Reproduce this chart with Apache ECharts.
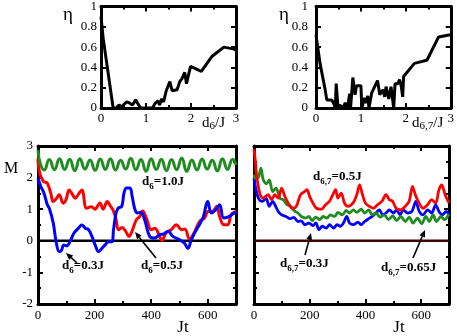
<!DOCTYPE html>
<html>
<head>
<meta charset="utf-8">
<script src="https://cdn.jsdelivr.net/npm/echarts@6/dist/echarts.min.js"></script>
<style>
  html, body { margin: 0; padding: 0; background: #fff; }
  #chart { width: 457px; height: 336px; }
</style>
</head>
<body>
<div id="chart"></div>
<script>
// ---- data ----
// top left: eta vs d6/J
var d6 = [0, 0.05, 0.27, 0.33, 0.4, 0.45, 0.57, 0.63, 0.7, 0.77, 0.81, 0.88, 0.96, 1.14, 1.21, 1.27, 1.3, 1.35, 1.39, 1.45, 1.53, 1.58, 1.69, 1.75, 1.8, 1.86, 1.9, 1.99, 2.23, 2.47, 2.73, 2.96, 3.0];
var eta6 = [0.9, 0.68, 0, 0, 0.03, 0.01, 0.06, 0.05, 0.03, 0.08, 0.05, 0, 0, 0, 0.05, 0.07, 0.03, 0.09, 0.06, 0.17, 0.26, 0.17, 0.18, 0.26, 0.29, 0.35, 0.24, 0.41, 0.36, 0.51, 0.6, 0.58, 0.57];
// top right: eta vs d67/J
var d67 = [0, 0.09, 0.2, 0.24, 0.35, 0.4, 0.43, 0.45, 0.49, 0.53, 0.6, 0.65, 0.7, 0.75, 0.77, 0.82, 0.87, 0.9, 1.0, 1.02, 1.08, 1.12, 1.15, 1.18, 1.24, 1.27, 1.37, 1.42, 1.49, 1.53, 1.56, 1.62, 1.67, 1.73, 1.76, 1.82, 1.86, 1.9, 1.93, 1.95, 2.19, 2.47, 2.73, 2.96, 3.0];
var eta67 = [0.72, 0.44, 0.19, 0.08, 0.08, 0.04, 0, 0.24, 0, 0.03, 0, 0.05, 0, 0.14, 0, 0.3, 0.13, 0.22, 0.22, 0, 0.1, 0.05, 0.12, 0, 0.15, 0.14, 0.27, 0.13, 0.18, 0.11, 0.21, 0.09, 0.21, 0, 0.24, 0.24, 0.28, 0.21, 0.11, 0.31, 0.44, 0.47, 0.7, 0.72, 0.72];

// bottom left: M vs Jt
var tGreenL = [0, 8, 22, 40, 58, 76, 94, 112, 130, 148, 166, 184, 202, 220, 238, 256, 274, 292, 310, 328, 346, 364, 382, 400, 418, 436, 454, 472, 490, 508, 526, 544, 562, 580, 598, 616, 634, 652, 670, 688, 700];
var mGreenL = [2.88, 2.45, 2.24, 2.57, 2.25, 2.6, 2.26, 2.58, 2.22, 2.6, 2.27, 2.56, 2.23, 2.59, 2.26, 2.6, 2.24, 2.55, 2.27, 2.61, 2.25, 2.57, 2.2, 2.6, 2.26, 2.58, 2.22, 2.57, 2.25, 2.62, 2.2, 2.56, 2.24, 2.59, 2.27, 2.55, 2.21, 2.6, 2.26, 2.58, 2.4];
var tRedL = [0, 6, 19, 33, 45, 54, 66, 75, 89, 99, 110, 122, 132, 145, 155, 172, 189, 201, 219, 230, 245, 256, 265, 275, 285, 297, 308, 322, 332, 348, 360, 370, 383, 401, 413, 430, 438, 453, 471, 489, 507, 519, 536, 554, 571, 589, 601, 616, 632, 642, 657, 671, 683, 700];
var mRedL = [2.6, 2.14, 1.88, 1.82, 1.51, 1.24, 1.35, 1.46, 1.19, 1.3, 1.61, 1.46, 1.35, 1.5, 1.61, 1.03, 1.08, 1.0, 1.2, 1.0, 1.24, 1.1, 0.98, 0.72, 0.35, 0.42, 0.33, 0.14, 0.3, 0.67, 0.77, 0.94, 0.72, 0.35, 0.4, 0.14, 0.0, 0.25, 0.35, 0.51, 0.35, 0.37, 0.05, 0.29, 0.61, 0.72, 0.93, 0.93, 1.09, 0.77, 0.51, 0.51, 0.83, 0.93];
var tBlueL = [0, 10, 21, 33, 40, 54, 63, 75, 83, 91, 101, 113, 127, 143, 155, 167, 179, 191, 202, 214, 226, 237, 249, 261, 267, 276, 284, 296, 304, 313, 325, 333, 343, 352, 363, 377, 395, 413, 430, 445, 460, 477, 501, 518, 530, 542, 560, 583, 600, 613, 628, 642, 657, 677, 695, 700];
var mBlueL = [1.98, 1.72, 1.51, 1.14, 1.03, 0.56, 0.03, -0.34, -0.3, -0.13, -0.16, -0.03, 0.24, 0.4, 0.5, 0.4, 0.35, 0.13, -0.13, -0.34, -0.24, -0.13, -0.03, -0.03, 0.35, 0.88, 1.04, 1.09, 1.51, 1.67, 1.67, 1.4, 0.98, 0.88, 0.9, 0.67, 0.14, 0.09, 0.19, 0.22, 0.3, 0.14, 0.03, -0.08, -0.24, 0.03, 0.35, 0.72, 1.24, 0.88, 0.98, 1.14, 0.72, 0.77, 0.88, 0.85];

// bottom right: M vs Jt
var tRedR = [0, 4, 10, 21, 33, 51, 63, 75, 87, 99, 111, 123, 138, 152, 167, 182, 190, 200, 212, 224, 242, 257, 271, 283, 293, 301, 313, 325, 337, 355, 369, 379, 388, 400, 414, 429, 443, 459, 474, 486, 498, 510, 527, 543, 557, 569, 579, 593, 607, 623, 638, 652, 664, 674, 686, 700];
var mRedR = [2.9, 2.6, 2.03, 1.5, 1.35, 1.46, 1.3, 1.46, 1.35, 1.67, 1.4, 1.19, 1.03, 1.09, 1.46, 1.56, 1.62, 1.4, 1.19, 1.03, 1.0, 1.14, 1.25, 1.46, 1.62, 1.35, 1.51, 1.19, 1.09, 1.19, 1.46, 1.77, 1.51, 1.19, 1.09, 1.03, 1.14, 1.25, 1.46, 1.3, 1.25, 1.03, 0.98, 1.09, 1.25, 1.72, 1.46, 1.19, 1.03, 1.14, 1.3, 1.19, 1.62, 1.77, 1.46, 1.2];
var tBlueR = [0, 10, 19, 31, 43, 55, 67, 75, 87, 99, 115, 129, 143, 158, 170, 182, 197, 212, 222, 233, 245, 260, 271, 286, 298, 310, 321, 333, 343, 357, 373, 385, 397, 412, 424, 438, 450, 462, 474, 486, 500, 512, 524, 536, 551, 567, 581, 593, 607, 623, 638, 652, 664, 676, 690, 700];
var mBlueR = [1.98, 1.51, 1.3, 1.25, 1.35, 1.09, 1.25, 1.14, 0.93, 0.82, 0.77, 0.7, 0.74, 0.61, 0.63, 0.51, 0.56, 0.48, 0.57, 0.35, 0.46, 0.4, 0.51, 0.4, 0.51, 0.46, 0.56, 0.77, 0.56, 0.51, 0.59, 0.51, 0.61, 0.7, 0.77, 0.88, 0.98, 0.82, 0.88, 0.98, 0.88, 0.98, 0.82, 0.98, 0.88, 0.93, 1.25, 0.93, 0.82, 0.98, 0.88, 1.14, 0.93, 0.82, 0.93, 0.82];
var tGreenR = [0, 4, 15, 25, 33, 45, 55, 67, 79, 93, 105, 119, 131, 147, 158, 170, 186, 197, 209, 222, 236, 248, 262, 274, 290, 301, 317, 331, 343, 357, 369, 385, 397, 412, 424, 438, 452, 468, 483, 498, 512, 527, 543, 557, 571, 587, 602, 617, 629, 643, 655, 671, 683, 700];
var mGreenR = [2.1, 1.98, 2.0, 2.3, 1.93, 1.8, 1.93, 1.56, 1.67, 1.35, 1.3, 1.14, 1.09, 0.93, 0.88, 0.77, 0.72, 0.77, 0.64, 0.75, 0.67, 0.77, 0.72, 0.82, 0.77, 0.9, 0.82, 0.96, 0.88, 0.98, 0.9, 1.0, 0.88, 0.98, 0.82, 0.88, 0.75, 0.82, 0.67, 0.79, 0.64, 0.77, 0.61, 0.75, 0.56, 0.72, 0.54, 0.77, 0.61, 0.82, 0.61, 0.77, 0.67, 0.85];

var zeroT = [0, 700];
var zeroM = [0, 0];

// ---- helpers ----
var serif = 'Liberation Serif';
function zip(xs, ys) {
  return xs.map(function (x, i) { return [x, ys[i]]; });
}

var tick = { show: true, inside: true, length: 5, lineStyle: { color: '#000', width: 2 } };
var minor = { show: true, splitNumber: 2, length: 3, lineStyle: { color: '#000', width: 2 } };

function axis(grid, min, max, interval, pos, showLabel, hasMinor, margin, hideMax) {
  return {
    type: 'value', gridIndex: grid, min: min, max: max, interval: interval, position: pos,
    axisLine: { show: true, onZero: false, lineStyle: { color: '#000', width: 3 } },
    axisTick: tick,
    minorTick: hasMinor ? minor : { show: false },
    axisLabel: {
      show: showLabel, margin: margin || 5, color: '#000', fontFamily: serif, fontSize: 13,
      showMaxLabel: hideMax ? false : null
    },
    splitLine: { show: false },
    minorSplitLine: { show: false }
  };
}

function line(xi, data, color, width, smooth) {
  return {
    type: 'line', xAxisIndex: xi, yAxisIndex: xi, data: data, symbol: 'none',
    smooth: smooth || false, animation: false,
    lineStyle: { color: color, width: width }
  };
}

// subscripted label such as d_6=0.5J
function subText(x, y, main, sub, rest, size, bold) {
  var w = bold ? 'bold' : 'normal';
  return {
    type: 'text', x: x, y: y,
    style: {
      text: '{a|' + main + '}{b|' + sub + '}{a|' + rest + '}',
      verticalAlign: 'middle', align: 'left',
      rich: {
        a: { fontFamily: serif, fontSize: size, fontWeight: w, lineHeight: 18, fill: '#000' },
        b: { fontFamily: serif, fontSize: size - 4, fontWeight: w, lineHeight: 8, verticalAlign: 'bottom', fill: '#000' }
      }
    }
  };
}

function plain(x, y, txt, size) {
  return {
    type: 'text', x: x, y: y,
    style: { text: txt, fontFamily: serif, fontSize: size, fill: '#000', align: 'center', verticalAlign: 'middle' }
  };
}

// arrow from tail (x1,y1) to tip (x2,y2)
function arrow(x1, y1, x2, y2) {
  var a = Math.atan2(y2 - y1, x2 - x1), L = 7, W = 3;
  var bx = x2 - L * Math.cos(a), by = y2 - L * Math.sin(a);
  return [
    { type: 'line', shape: { x1: x1, y1: y1, x2: bx, y2: by }, style: { stroke: '#000', lineWidth: 1.6 } },
    { type: 'polygon', shape: { points: [[x2, y2], [bx - W * Math.sin(a), by + W * Math.cos(a)], [bx + W * Math.sin(a), by - W * Math.cos(a)]] }, style: { fill: '#000' } }
  ];
}

var chart = echarts.init(document.getElementById('chart'));

var graphics = [
  plain(68, 15, 'η', 19),
  plain(284, 15, 'η', 19),
  subText(202, 123, 'd', '6', '/J', 15, false),
  subText(412, 123, 'd', '6,7', '/J', 15, false),
  plain(11, 169, 'M', 16),
  plain(183, 328, 'Jt', 17),
  plain(399, 328, 'Jt', 17),
  subText(142, 182, 'd', '6', '=1.0J', 13, true),
  subText(62, 266, 'd', '6', '=0.3J', 13, true),
  subText(141, 266, 'd', '6', '=0.5J', 13, true),
  subText(313, 177, 'd', '6,7', '=0.5J', 13, true),
  subText(280, 264, 'd', '6,7', '=0.3J', 13, true),
  subText(381, 268, 'd', '6,7', '=0.65J', 13, true)
].concat(arrow(77, 263, 66, 253), arrow(156, 258, 135, 232),
         arrow(305, 255, 311, 233), arrow(413, 258, 425, 230));

var option = {
  backgroundColor: '#fff',
  animation: false,
  grid: [
    { left: 101, top: 5, width: 135, height: 103 },
    { left: 316, top: 5, width: 135, height: 103 },
    { left: 38, top: 146, width: 198, height: 158 },
    { left: 254, top: 146, width: 195, height: 158 }
  ],
  xAxis: [
    axis(0, 0, 3, 1, 'bottom', true, true, 4),
    axis(1, 0, 3, 1, 'bottom', true, true, 4),
    axis(2, 0, 700, 200, 'bottom', true, true, 5, true),
    axis(3, 0, 700, 200, 'bottom', true, true, 5, true),
    axis(0, 0, 3, 1, 'top', false, true),
    axis(1, 0, 3, 1, 'top', false, true),
    axis(2, 0, 700, 200, 'top', false, true),
    axis(3, 0, 700, 200, 'top', false, true)
  ],
  yAxis: [
    axis(0, 0, 1, 0.2, 'left', true, false, 4),
    axis(1, 0, 1, 0.2, 'left', true, false, 8),
    axis(2, -2, 3, 1, 'left', true, true, 5),
    axis(3, -2, 3, 1, 'left', false, true),
    axis(0, 0, 1, 0.2, 'right', false, false),
    axis(1, 0, 1, 0.2, 'right', false, false),
    axis(2, -2, 3, 1, 'right', false, true),
    axis(3, -2, 3, 1, 'right', false, true)
  ],
  series: [
    line(0, zip(d6, eta6), '#000', 3),
    line(1, zip(d67, eta67), '#000', 3),
    line(2, zip(zeroT, zeroM), '#000', 2.5),
    line(2, zip(tRedL, mRedL), '#ff0000', 3, 0.4),
    line(2, zip(tBlueL, mBlueL), '#0000ff', 3, 0.4),
    line(2, zip(tGreenL, mGreenL), '#1f8c1f', 3, 0.5),
    line(3, zip(zeroT, zeroM), '#3c0606', 2.5),
    line(3, zip(tBlueR, mBlueR), '#0000ff', 2.8, 0.3),
    line(3, zip(tGreenR, mGreenR), '#1f8c1f', 2.8, 0.3),
    line(3, zip(tRedR, mRedR), '#ff0000', 2.8, 0.3)
  ],
  graphic: { elements: graphics }
};

chart.setOption(option);
</script>
</body>
</html>
